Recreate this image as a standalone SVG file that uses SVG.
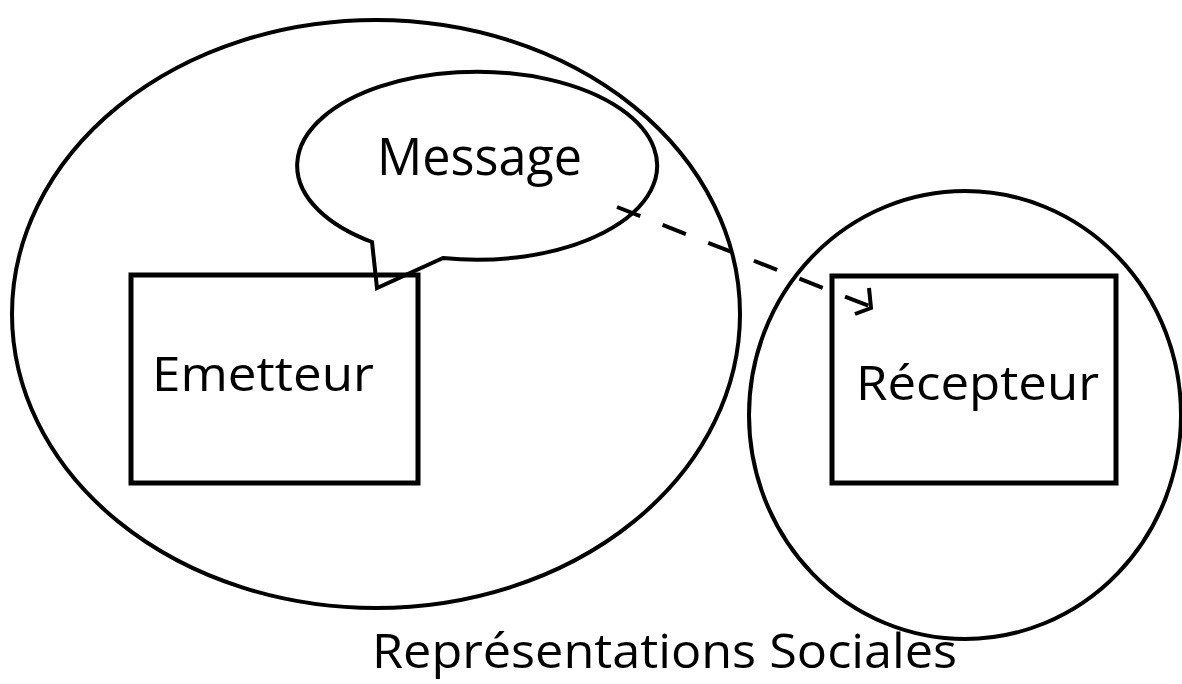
<svg xmlns="http://www.w3.org/2000/svg" width="1182" height="684" viewBox="0 0 1182 684">
<style>
.s{fill:none;stroke:#000;stroke-width:4}
.r{fill:none;stroke:#000;stroke-width:5}
.t{font-family:"Open Sans","Noto Sans",sans-serif;fill:#000}
</style>
<rect width="1182" height="684" fill="#fff"/>
<g id="representations">
<ellipse class="s" cx="376" cy="314" rx="364" ry="294"/>
<ellipse class="s" cx="965" cy="415" rx="216" ry="224"/>
<text class="t" x="372" y="668" font-size="48" textLength="585" lengthAdjust="spacingAndGlyphs">Représentations Sociales</text>
</g>
<g id="emetteur">
<rect class="r" x="131" y="275" width="287" height="208"/>
<text class="t" x="152" y="391" font-size="48" textLength="222" lengthAdjust="spacingAndGlyphs">Emetteur</text>
</g>
<g id="recepteur">
<rect class="r" x="832" y="276" width="284" height="207"/>
<text class="t" x="856" y="400" font-size="48" textLength="243" lengthAdjust="spacingAndGlyphs">Récepteur</text>
</g>
<g id="message">
<path class="s" d="M372,242 A180,94 0 1 1 443,258 L377,288 Z" stroke-linejoin="miter"/>
<text class="t" x="377" y="175" font-size="51" textLength="205" lengthAdjust="spacingAndGlyphs">Message</text>
</g>
<g id="connectors">
<line class="s" x1="617" y1="207" x2="869" y2="306" stroke-dasharray="25,24"/>
<path class="s" d="M869,288 L871,308 L855,314" stroke-linejoin="miter"/>
</g>
</svg>
